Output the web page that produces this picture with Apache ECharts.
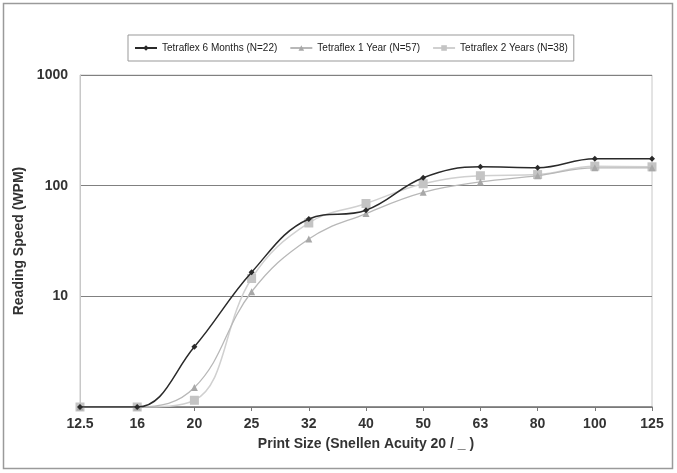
<!DOCTYPE html>
<html>
  <head>
    <title>Reading speed by print size</title>
    <meta charset='utf-8' />
    <style>
      body { margin: 0; background: #fff; }
    </style>
  </head>
  <body>
    <div id="content" style="width: 677px; height: 473px;"></div>

    <script src="https://cdn.jsdelivr.net/npm/echarts@6/dist/echarts.min.js"></script>
    <script type="text/javascript">
      // Print sizes (Snellen 20 / _)
      var printSizes = ['12.5', '16', '20', '25', '32', '40', '50', '63', '80', '100', '125'];

      // Reading speed (WPM)
      var sixMonths = [1, 1, 3.5, 16.5, 50, 60, 118, 148, 145, 175, 175];
      var oneYear   = [1, 1, 1.5, 11, 33, 56, 87, 108, 123, 145, 145];
      var twoYears  = [1, 1, 1.15, 14.5, 46, 69, 104, 123, 126, 150, 148];

      var seriesNames = ['Tetraflex 6 Months (N=22)', 'Tetraflex 1 Year (N=57)', 'Tetraflex 2 Years (N=38)'];

      var boldFont = 'Liberation Sans, Arial, sans-serif';
      var narrowFont = 'Liberation Sans Narrow, Arial Narrow, Liberation Sans, sans-serif';

      var myChart = echarts.init(document.getElementById('content'));
      var options = {
        animation: false,
        graphic: [{
          type: 'rect',
          shape: {x: 3.5, y: 3.5, width: 669, height: 465},
          style: {fill: 'none', stroke: '#9a9a9a', lineWidth: 1.5}
        }],
        legend: {
          top: 35,
          left: 128,
          itemGap: 12,
          itemWidth: 22,
          itemHeight: 7,
          padding: [8, 6],
          borderColor: '#999',
          borderWidth: 1,
          textStyle: {fontFamily: narrowFont, fontSize: 10, color: '#222'},
          data: seriesNames
        },
        grid: {left: 80, right: 25, top: 75, bottom: 66, show: true, borderColor: '#c8c8c8', borderWidth: 1},
        xAxis: {
          type: 'category',
          boundaryGap: false,
          data: printSizes,
          name: 'Print Size (Snellen Acuity 20 / _ )',
          nameLocation: 'middle',
          nameGap: 30,
          nameTextStyle: {fontFamily: boldFont, fontWeight: 'bold', fontSize: 14, color: '#333'},
          axisLine: {lineStyle: {color: '#777', width: 1.5}},
          axisTick: {show: true, alignWithLabel: true, length: 4, lineStyle: {color: '#777'}},
          axisLabel: {fontFamily: boldFont, fontWeight: 'bold', fontSize: 14, color: '#333', margin: 10},
          splitLine: {show: false}
        },
        yAxis: {
          type: 'log',
          logBase: 10,
          min: 1,
          max: 1000,
          name: 'Reading Speed (WPM)',
          nameLocation: 'middle',
          nameGap: 52,
          nameTextStyle: {fontFamily: boldFont, fontWeight: 'bold', fontSize: 14, color: '#333'},
          axisLine: {show: true, lineStyle: {color: '#c8c8c8'}},
          axisTick: {show: false},
          axisLabel: {
            fontFamily: boldFont, fontWeight: 'bold', fontSize: 14, color: '#333', margin: 12,
            formatter: function (v) { return v === 1 ? '' : v; }
          },
          splitLine: {show: true, lineStyle: {color: '#808080', width: 1.2}}
        },
        series: [{
          name: seriesNames[0],
          type: 'line',
          smooth: 0.4,
          data: sixMonths,
          symbol: 'diamond',
          symbolSize: 6,
          itemStyle: {color: '#2a2a2a'},
          lineStyle: {color: '#2a2a2a', width: 1.5},
          z: 4
        }, {
          name: seriesNames[1],
          type: 'line',
          smooth: 0.4,
          data: oneYear,
          symbol: 'triangle',
          symbolSize: 7,
          itemStyle: {color: '#a8a8a8'},
          lineStyle: {color: '#b8b8b8', width: 1.3},
          z: 3
        }, {
          name: seriesNames[2],
          type: 'line',
          smooth: 0.4,
          data: twoYears,
          symbol: 'rect',
          symbolSize: 9,
          itemStyle: {color: '#c4c4c4'},
          lineStyle: {color: '#d0d0d0', width: 1.5},
          z: 2
        }]
      };
      myChart.setOption(options);
    </script>
  </body>
</html>
